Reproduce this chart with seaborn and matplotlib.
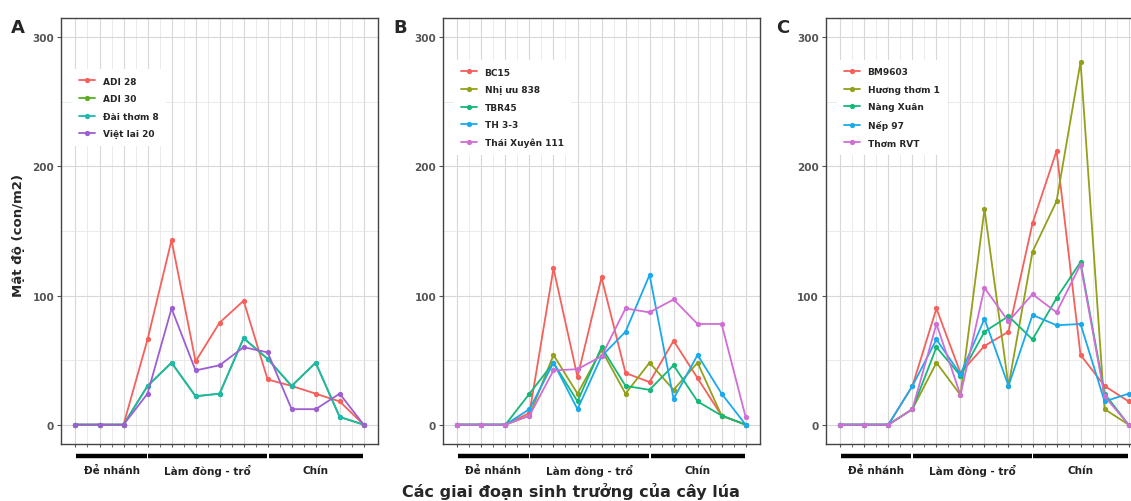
import numpy as np
import pandas as pd
import matplotlib
matplotlib.use("Agg")
import matplotlib.pyplot as plt
import matplotlib.transforms as mtransforms
import seaborn as sns

# Growth-stage sample points (13 per panel)
stage_points = list(range(13))
stage_names = ["Đẻ nhánh", "Làm đòng - trổ", "Chín"]
stage_spans = [(0, 3), (3, 8), (8, 12)]

# Panel A
varieties_a = ["ADI 28", "ADI 30", "Đài thơm 8", "Việt lai 20"]
adi28 = [0, 0, 0, 66, 143, 49, 79, 96, 35, 30, 24, 18, 0]
adi30 = [0, 0, 0, 30, 48, 22, 24, 67, 51, 30, 48, 6, 0]
dai_thom8 = [0, 0, 0, 30, 48, 22, 24, 67, 51, 30, 48, 6, 0]
viet_lai20 = [0, 0, 0, 24, 90, 42, 46, 60, 56, 12, 12, 24, 0]

# Panel B
varieties_b = ["BC15", "Nhị ưu 838", "TBR45", "TH 3-3", "Thái Xuyên 111"]
bc15 = [0, 0, 0, 9, 121, 37, 114, 40, 33, 65, 36, 7, 0]
nhi_uu838 = [0, 0, 0, 7, 54, 24, 58, 24, 48, 27, 48, 7, 0]
tbr45 = [0, 0, 0, 24, 48, 18, 60, 30, 27, 46, 18, 7, 0]
th33 = [0, 0, 0, 12, 48, 12, 53, 72, 116, 20, 54, 24, 0]
thai_xuyen111 = [0, 0, 0, 7, 42, 43, 53, 90, 87, 97, 78, 78, 6]

# Panel C
varieties_c = ["BM9603", "Hương thơm 1", "Nàng Xuân", "Nếp 97", "Thơm RVT"]
bm9603 = [0, 0, 0, 30, 90, 40, 61, 72, 156, 212, 54, 30, 18]
huong_thom1 = [0, 0, 0, 12, 48, 23, 167, 30, 134, 173, 281, 12, 0]
nang_xuan = [0, 0, 0, 12, 60, 38, 72, 84, 66, 98, 126, 24, 0]
nep97 = [0, 0, 0, 30, 66, 39, 82, 30, 85, 77, 78, 18, 24]
thom_rvt = [0, 0, 0, 12, 78, 23, 106, 80, 101, 87, 124, 22, 0]

pal4 = ["#F5605A", "#5BAE1F", "#1DB9AE", "#9D5FD0"]
pal5 = ["#F5605A", "#94A01A", "#14B877", "#1AAAEB", "#D06ED6"]


def long_df(names, series):
    rows = []
    for name, vals in zip(names, series):
        for x, v in zip(stage_points, vals):
            rows.append({"stage": x, "density": v, "variety": name})
    return pd.DataFrame(rows)


panels = [
    ("A", long_df(varieties_a, [adi28, adi30, dai_thom8, viet_lai20]), varieties_a, pal4),
    ("B", long_df(varieties_b, [bc15, nhi_uu838, tbr45, th33, thai_xuyen111]), varieties_b, pal5),
    ("C", long_df(varieties_c, [bm9603, huong_thom1, nang_xuan, nep97, thom_rvt]), varieties_c, pal5),
]

sns.set_style("white")
plt.rcParams["font.family"] = ["DejaVu Sans"]

fig = plt.figure(figsize=(11.31, 5.02), dpi=100)
lefts = [0.054, 0.3917, 0.7303]
width, bottom, height = 0.2803, 0.1135, 0.8486

for i, (letter, df, names, pal) in enumerate(panels):
    ax = fig.add_axes([lefts[i], bottom, width, height])
    sns.lineplot(data=df, x="stage", y="density", hue="variety", hue_order=names,
                 palette=pal, marker="o", markersize=3.8, markeredgewidth=0,
                 linewidth=1.3, ax=ax)
    ax.set_xlim(-0.6, 12.6)
    ax.set_ylim(-15, 315)
    ax.set_yticks([0, 100, 200, 300])
    ax.set_yticks([50, 150, 250], minor=True)
    ax.set_xticks(stage_points)
    ax.set_xticks(np.arange(0.5, 12, 1), minor=True)
    ax.set_xticklabels([])
    ax.grid(which="major", color="#d8d8d8", linewidth=0.8)
    ax.grid(which="minor", color="#e8e8e8", linewidth=0.6)
    ax.set_axisbelow(True)
    ax.tick_params(axis="y", labelsize=7.5, labelcolor="#555555", length=3,
                   color="#555555", left=True, pad=2)
    ax.tick_params(axis="x", which="both", bottom=True, length=2.5, color="#555555")
    for lab in ax.get_yticklabels():
        lab.set_fontweight("bold")
    for sp in ax.spines.values():
        sp.set_color("#444444")
        sp.set_linewidth(1.0)
    ax.set_xlabel("")
    ax.set_ylabel("")

    handles, labels = ax.get_legend_handles_labels()
    leg = ax.legend(handles, labels, loc="center left", bbox_to_anchor=(0.02, 0.79),
                    frameon=True, facecolor="white", edgecolor="none", framealpha=1,
                    fontsize=6.5, handlelength=1.8, labelspacing=0.95,
                    borderpad=0.8, handletextpad=0.8)
    for t in leg.get_texts():
        t.set_fontweight("bold")

    # stage bars and labels under the axis
    trans = mtransforms.blended_transform_factory(ax.transData, ax.transAxes)
    for name, (s, e) in zip(stage_names, stage_spans):
        ax.plot([s + 0.04, e - 0.04], [-0.028, -0.028], color="black", linewidth=3.2,
                solid_capstyle="butt", transform=trans, clip_on=False)
        ax.text((s + e) / 2, -0.062, name, transform=trans, ha="center", va="center",
                fontsize=7.5, fontweight="bold", color="#222222")

    fig.text(lefts[i] - 0.044, 0.945, letter, fontsize=13, fontweight="bold",
             ha="left", va="center")

fig.text(0.016, 0.53, "Mật độ (con/m2)", rotation=90, fontsize=9.5, fontweight="bold",
         ha="center", va="center")
fig.text(0.505, 0.02, "Các giai đoạn sinh trưởng của cây lúa", fontsize=11.5,
         fontweight="bold", ha="center", va="center")

fig.savefig("out.png", dpi=100)
